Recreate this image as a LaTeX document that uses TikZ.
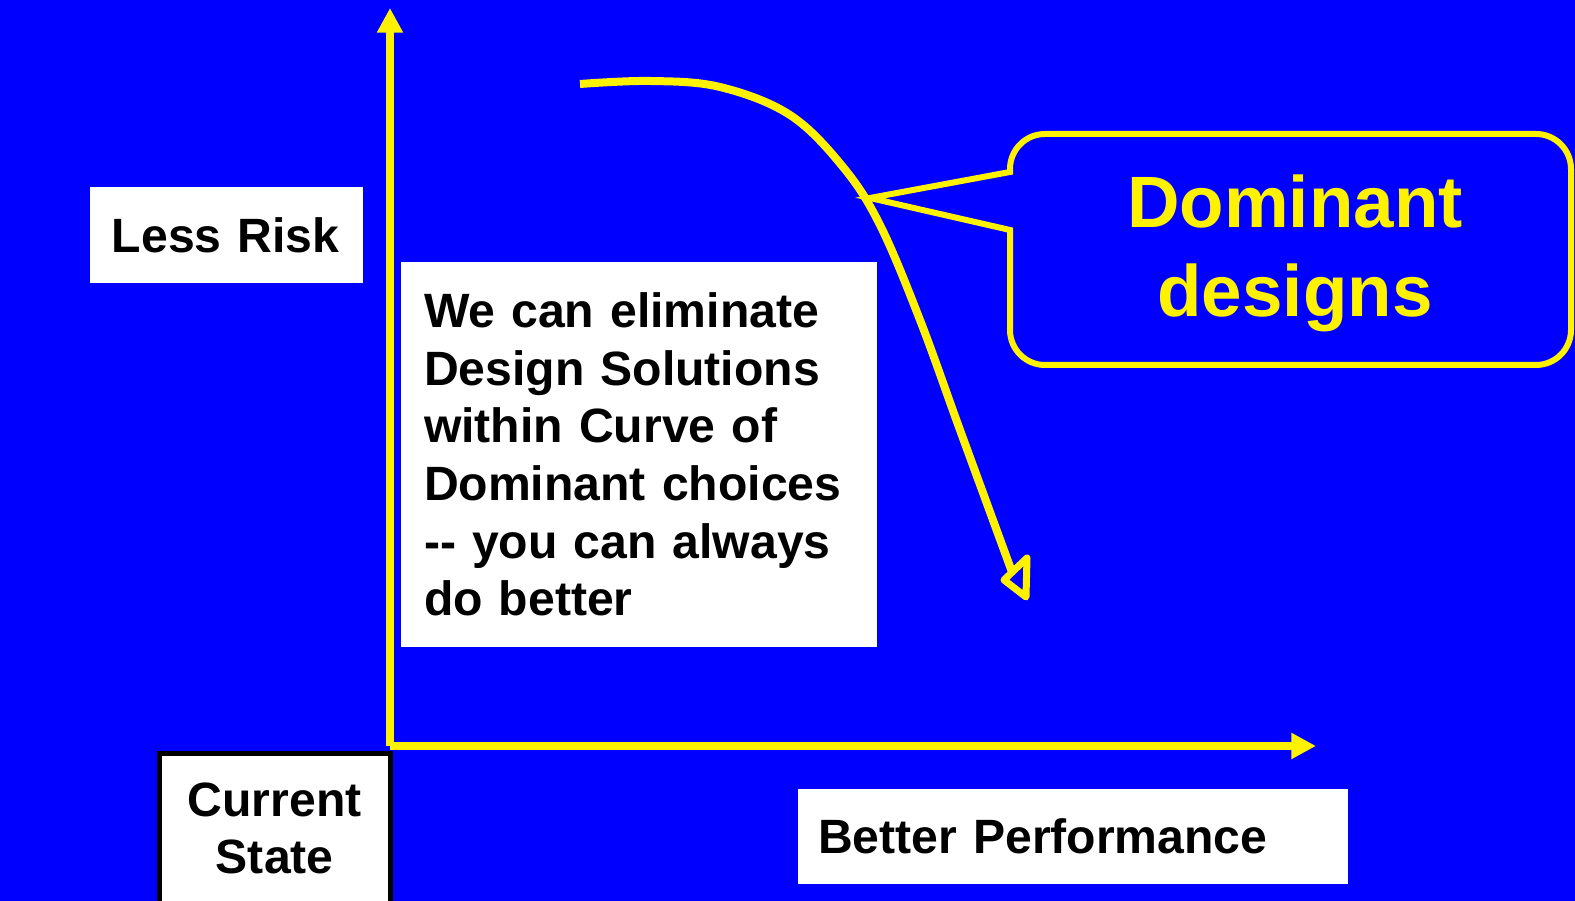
\documentclass[tikz,border=0pt]{standalone}
\usepackage{fontspec}
\setmainfont{Liberation Sans}
\usetikzlibrary{arrows.meta}

\begin{document}
\begin{tikzpicture}[>={Triangle[length=7pt,width=7pt]},
  textbox/.style={fill=white, text=black, align=left, inner ysep=0pt,
    font=\fontsize{13.7}{16.4}\selectfont\bfseries}]

\useasboundingbox (0,0) rectangle (15.75,9.01);
\fill[blue] (0,0) rectangle (15.75,9.01);

\coordinate (O) at (3.90,1.55);

\draw[yellow, line width=0.08cm, ->] (O) -- (3.90,8.93) coordinate (ytop);
\draw[yellow, line width=0.08cm, ->] (O) -- (13.16,1.55) coordinate (xend);

% curve of dominant choices
\draw[yellow, line width=0.08cm] plot [smooth, tension=0.6]
coordinates { (5.80,8.17) (6.50,8.20) (7.20,8.14) (7.90,7.86) (8.43,7.34)
  (8.80,6.76) (9.20,5.81) (9.60,4.71) (10.12,3.29) };
\draw[yellow, line width=0.07cm, line join=round]
(10.04,3.21) -- (10.27,3.43) -- (10.26,3.04) -- cycle;

% callout
\draw[yellow, line width=0.06cm, rounded corners=0.35cm]
(10.10,6.71) -- (10.10,5.36) -- (15.71,5.36) -- (15.71,7.67) -- (10.10,7.67)
[sharp corners] -- (10.10,7.29) -- (8.70,7.03) -- cycle;

\node[text=yellow, align=center, font=\fontsize{20.7}{25.3}\selectfont\bfseries]
(dominant) at (12.95,6.475) {Dominant\\ designs};

\node[textbox, text width=2.29cm, inner xsep=0.22cm, minimum height=0.96cm]
(risk) at (2.265,6.66) {Less Risk};

\node[textbox, text width=4.30cm, inner xsep=0.23cm, minimum height=3.85cm]
(claim) at (6.39,4.465) {We can eliminate\\ Design Solutions\\ within Curve of\\
  Dominant choices\\ -\kern0pt- you can always\\ do better};

\node[textbox, text width=5.10cm, inner xsep=0.20cm, minimum height=0.95cm]
(perf) at (10.73,0.645) {Better Performance};

\node[textbox, draw=black, line width=0.05cm, align=center, minimum width=2.305cm,
  inner xsep=0pt, inner ysep=0.29cm, text depth=1.3cm, anchor=north]
(state) at (2.7475,1.50) {Current\\ State};

\end{tikzpicture}
\end{document}
